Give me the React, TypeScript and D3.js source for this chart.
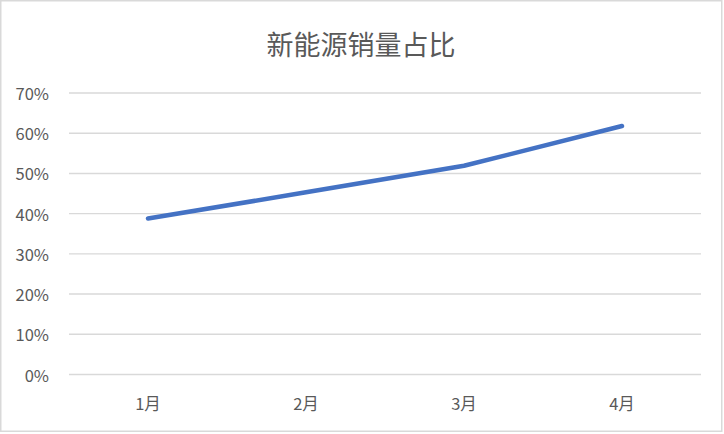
import React from "react";
import * as d3 from "d3";

const categories = ["1月", "2月", "3月", "4月"];
const shareValues = [0.388, 0.453, 0.519, 0.618];
const yTicks = [0, 0.1, 0.2, 0.3, 0.4, 0.5, 0.6, 0.7];
const title = "新能源销量占比";

const W = 724;
const H = 434;
const FONT = '"Noto Sans CJK SC", "Noto Sans", sans-serif';

export default function App() {
  const x = d3.scaleBand<string>().domain(categories).range([69, 701]);
  const y = d3.scaleLinear().domain([0, 0.7]).range([374.5, 93]);
  const line = d3
    .line<number>()
    .x((_, i) => (x(categories[i]) as number) + x.bandwidth() / 2)
    .y((d) => y(d));
  const fmt = d3.format(".0%");

  return (
    <svg
      width={W}
      height={H}
      style={{ position: "absolute", left: 0, top: 0, background: "#fff" }}
    >
      <rect x={0} y={0} width={W} height={H} fill="#fff" />
      <rect
        x={0.75}
        y={0.75}
        width={721}
        height={430.5}
        fill="none"
        stroke="#d9d9d9"
        strokeWidth={1.5}
      />
      <text
        x={361}
        y={43}
        textAnchor="middle"
        dominantBaseline="central"
        fontFamily={FONT}
        fontSize={27}
        fill="#595959"
      >
        {title}
      </text>
      {yTicks.map((t) => (
        <g key={t}>
          <line
            x1={x.range()[0]}
            x2={x.range()[1]}
            y1={y(t)}
            y2={y(t)}
            stroke="#d9d9d9"
            strokeWidth={1.4}
          />
          <text
            x={49}
            y={y(t)}
            textAnchor="end"
            dominantBaseline="central"
            fontFamily={FONT}
            fontSize={16.5}
            fill="#595959"
          >
            {fmt(t)}
          </text>
        </g>
      ))}
      {categories.map((c) => (
        <text
          key={c}
          x={(x(c) as number) + x.bandwidth() / 2}
          y={403}
          textAnchor="middle"
          dominantBaseline="central"
          fontFamily={FONT}
          fontSize={16.5}
          fill="#595959"
        >
          {c}
        </text>
      ))}
      <path
        d={line(shareValues) || ""}
        fill="none"
        stroke="#4472C4"
        strokeWidth={4.5}
        strokeLinecap="round"
        strokeLinejoin="round"
      />
    </svg>
  );
}
